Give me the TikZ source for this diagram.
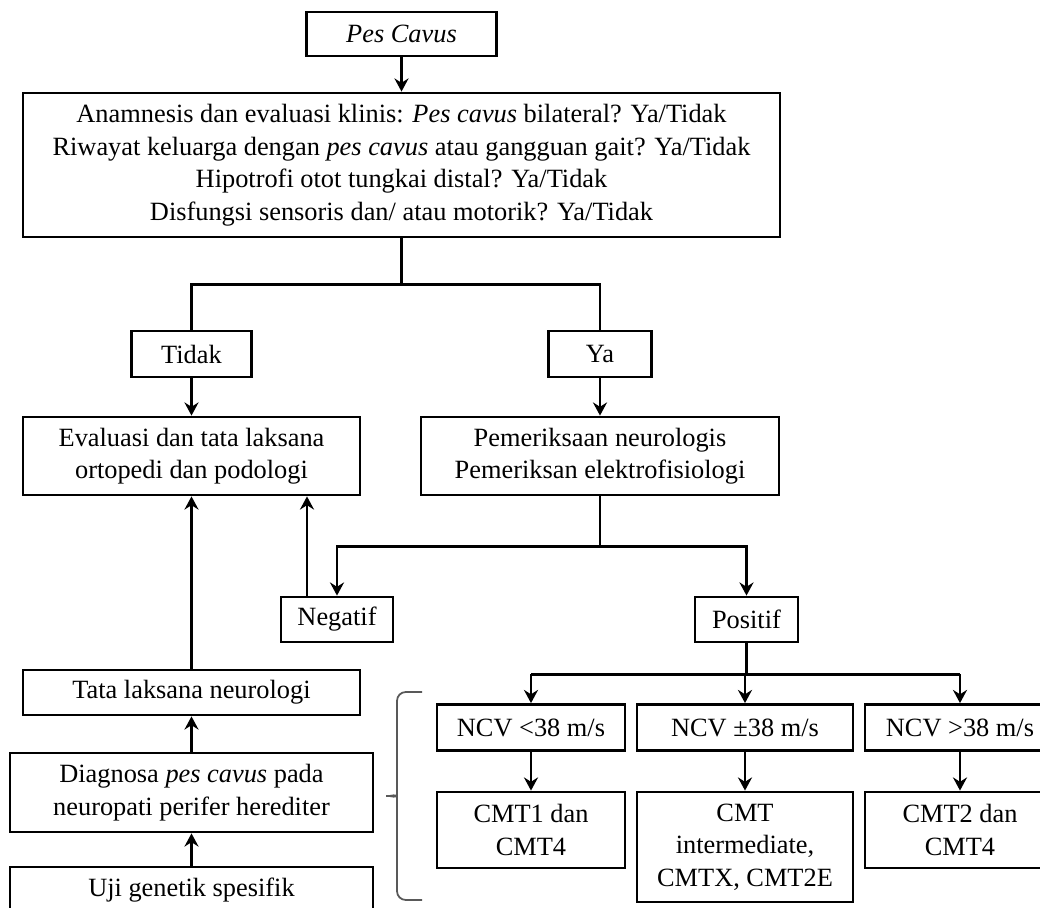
\documentclass[tikz,border=0pt]{standalone}
\usepackage{fontspec}
\setmainfont{Liberation Serif}
\usetikzlibrary{arrows.meta,calc,positioning}

\tikzset{
  box/.style={draw, line width=1.6pt, align=center, inner sep=2pt,
    font=\fontsize{15}{18.5}\selectfont},
  wire/.style={line width=1.6pt},
  arr/.style={wire, -{Stealth[length=7.5pt,width=8pt,inset=2.5pt]}},
  brc/.style={line width=1pt, black!65, rounded corners=5pt}
}

\begin{document}
\begin{tikzpicture}
\useasboundingbox (0,0) rectangle (20.8,-18.16);

% top
\node[box, minimum width=3.8cm, minimum height=0.88cm] (pes) at (8.03,-0.68) {\itshape Pes Cavus};
\node[box, minimum width=15.14cm, minimum height=2.88cm] (anam) at (8.03,-3.3)
  {Anamnesis dan evaluasi klinis: \textit{Pes cavus} bilateral? Ya/Tidak\\
   Riwayat keluarga dengan \textit{pes cavus} atau gangguan gait? Ya/Tidak\\
   Hipotrofi otot tungkai distal? Ya/Tidak\\
   Disfungsi sensoris dan/ atau motorik? Ya/Tidak};

% ya / tidak
\node[box, minimum width=2.4cm, minimum height=0.92cm] (tidak) at (3.83,-7.08) {Tidak};
\node[box, minimum width=2.06cm, minimum height=0.92cm] (ya) at (12.0,-7.08) {Ya};
\node[box, minimum width=6.74cm, minimum height=1.56cm] (eval) at (3.83,-9.12)
  {Evaluasi dan tata laksana\\ ortopedi dan podologi};
\node[box, minimum width=7.16cm, minimum height=1.56cm] (neuro) at (12.0,-9.12)
  {Pemeriksaan neurologis\\ Pemeriksan elektrofisiologi};

% hasil
\node[box, minimum width=2.24cm, minimum height=0.9cm] (neg) at (6.74,-12.39) {Negatif};
\node[box, minimum width=2.06cm, minimum height=0.9cm] (pos) at (14.93,-12.39) {Positif};

% kiri bawah
\node[box, minimum width=6.74cm, minimum height=0.9cm] (tata) at (3.83,-13.85) {Tata laksana neurologi};
\node[box, minimum width=7.26cm, minimum height=1.58cm] (diag) at (3.83,-15.85)
  {Diagnosa \textit{pes cavus} pada\\ neuropati perifer herediter};
\node[box, minimum width=7.26cm, minimum height=0.92cm] (uji) at (3.83,-17.8) {Uji genetik spesifik};

% NCV
\node[box, minimum width=3.76cm, minimum height=0.92cm] (n1) at (10.62,-14.55) {NCV <38 m/s};
\node[box, minimum width=4.32cm, minimum height=0.92cm] (n2) at (14.9,-14.55) {NCV ±38 m/s};
\node[box, minimum width=3.8cm, minimum height=0.92cm] (n3) at (19.2,-14.55) {NCV >38 m/s};
\node[box, minimum width=3.76cm, minimum height=1.52cm] (c1) at (10.62,-16.6) {CMT1 dan\\ CMT4};
\node[box, minimum width=4.32cm, minimum height=2.2cm] (c2) at (14.9,-16.94) {CMT\\ intermediate,\\ CMTX, CMT2E};
\node[box, minimum width=3.8cm, minimum height=1.52cm] (c3) at (19.2,-16.6) {CMT2 dan\\ CMT4};

% connectors
\draw[arr] (pes) -- (pes |- anam.north);
\coordinate (s1) at ($(anam.south)+(0,-0.92)$);
\draw[wire] (anam.south) -- (s1);
\draw[wire] (s1) -| (tidak.north);
\draw[wire] (s1) -| (ya.north);
\draw[arr] (tidak) -- (eval);
\draw[arr] (ya) -- (neuro);

\coordinate (s2) at ($(neuro.south)+(0,-1.0)$);
\draw[wire] (neuro.south) -- (s2);
\draw[arr] (s2) -| (neg.north);
\draw[arr] (s2) -| (pos.north);
\coordinate (nu) at ($(neg.north)+(-0.6,0)$);
\draw[arr] (nu) -- (nu |- eval.south);

\draw[arr] (tata) -- (eval);
\draw[arr] (diag) -- (tata);
\draw[arr] (uji) -- (diag);

\coordinate (s3) at ($(pos.south)+(0,-0.62)$);
\draw[wire] (pos.south) -- (s3);
\draw[wire] (s3 -| n1.north) -- (s3 -| n3.north);
\foreach \i in {1,2,3}
  \draw[arr] (s3 -| n\i.north) -- (n\i.north);
\foreach \i in {1,2,3}
  \draw[arr] (n\i) -- (c\i.north);

% kurung
\coordinate (b1) at (8.44,-18.0);
\coordinate (b2) at (8.44,-13.84);
\draw[brc] (b2) -- (7.94,-13.84) -- (7.94,-15.76)
  .. controls (7.94,-15.88) and (7.8,-15.92) .. (7.62,-15.92)
  .. controls (7.8,-15.92) and (7.94,-15.96) .. (7.94,-16.08)
  -- (7.94,-18.0) -- (b1);

\end{tikzpicture}
\end{document}
